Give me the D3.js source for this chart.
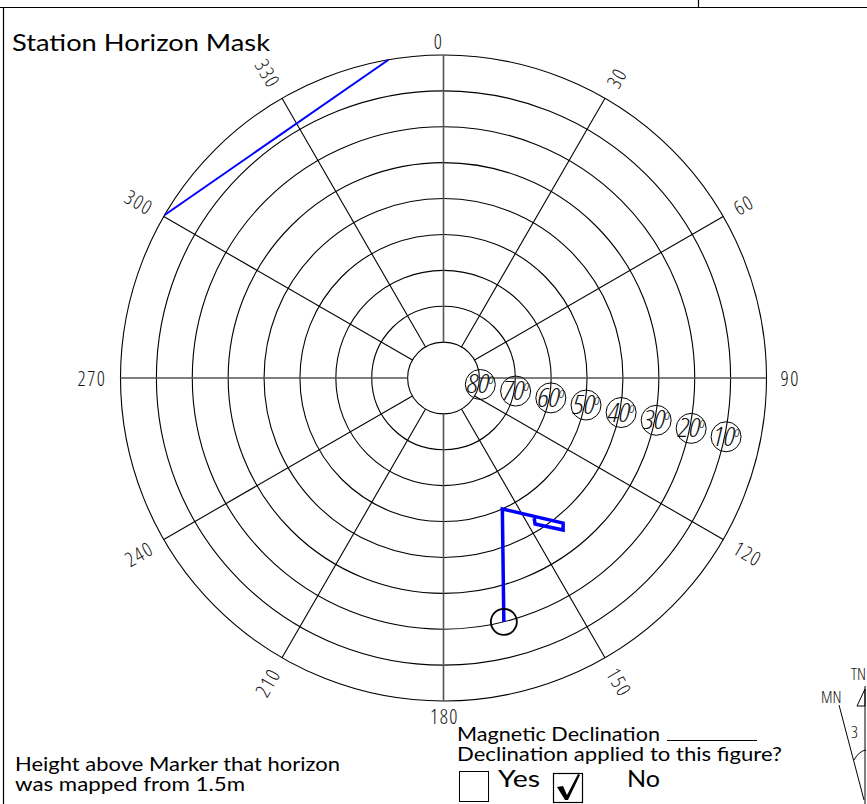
<!DOCTYPE html>
<html>
<head>
<meta charset="utf-8">
<script src="https://cdn.jsdelivr.net/npm/d3@7"></script>
<style>
  body { margin: 0; background: #fff; }
  svg { display: block; }
  .cad { font-family: "Open Sans", "DejaVu Sans", sans-serif; font-weight: 300; font-stretch: condensed; fill: #111; }
  .doc { font-family: "Lato", "Open Sans", sans-serif; fill: #000; }
</style>
</head>
<body>
<div id="chart"></div>
<script>
// azimuth spokes / labels (degrees)
var azTicks = [0, 30, 60, 90, 120, 150, 180, 210, 240, 270, 300, 330];
// elevation rings (degrees)
var elRings = [0, 10, 20, 30, 40, 50, 60, 70, 80];
var elLabels = [80, 70, 60, 50, 40, 30, 20, 10];

// horizon obstructions (azimuth, elevation)
var treeAz = [350.2, 300.3];
var treeEl = [0, 0];
var poleAz = [166.1, 155.8, 140.5, 141.8, 147.9, 147.1];
var poleEl = [20, 50, 37.6, 36.1, 42, 43.5];
var markerAz = 166.1;
var markerEl = 20;

var width = 867, height = 804;
var cx = 443.5, cy = 378, R = 323;

var svg = d3.select('#chart').append('svg')
    .attr('width', width)
    .attr('height', height);

// frame lines of the sheet
svg.append('line').attr('x1', 0).attr('x2', width).attr('y1', 7.5).attr('y2', 7.5)
    .attr('stroke', '#000').attr('stroke-width', 1.2);
svg.append('line').attr('x1', 3.5).attr('x2', 3.5).attr('y1', 7).attr('y2', height)
    .attr('stroke', '#000').attr('stroke-width', 1.2);
svg.append('line').attr('x1', 698.5).attr('x2', 698.5).attr('y1', 0).attr('y2', 7)
    .attr('stroke', '#000').attr('stroke-width', 1.2);

svg.append('text').attr('class', 'doc')
    .attr('x', 12).attr('y', 51)
    .attr('font-size', 24)
    .attr('textLength', 258).attr('lengthAdjust', 'spacingAndGlyphs')
    .text('Station Horizon Mask');

var r = d3.scaleLinear().domain([90, 0]).range([0, R]);
var rad = function (a) { return a * Math.PI / 180; };

var g = svg.append('g').attr('transform', 'translate(' + cx + ',' + cy + ')');

// rings
g.selectAll('circle.ring')
    .data(elRings)
    .enter().append('circle')
    .attr('class', 'ring')
    .attr('r', function (d) { return r(d); })
    .attr('fill', 'none')
    .attr('stroke', '#000')
    .attr('stroke-width', 1.1);

// spokes
g.selectAll('line.spoke')
    .data(azTicks)
    .enter().append('line')
    .attr('class', 'spoke')
    .attr('x1', function (d) { return r(80) * Math.sin(rad(d)); })
    .attr('y1', function (d) { return -r(80) * Math.cos(rad(d)); })
    .attr('x2', function (d) { return r(0) * Math.sin(rad(d)); })
    .attr('y2', function (d) { return -r(0) * Math.cos(rad(d)); })
    .attr('stroke', function (d) { return d % 90 == 0 ? '#555' : '#000'; })
    .attr('stroke-width', function (d) { return d % 90 == 0 ? 1.6 : 1.1; });

// azimuth labels, reading outward along the spoke
g.selectAll('text.az')
    .data(azTicks)
    .enter().append('text')
    .attr('class', 'az cad')
    .attr('font-size', 20)
    .attr('dominant-baseline', 'central')
    .attr('text-anchor', function (d) {
        if (d == 0 || d == 180) return 'middle';
        return d < 180 ? 'start' : 'end';
    })
    .attr('letter-spacing', 1.5)
    .attr('transform', function (d) {
        if (d == 0) return 'translate(-5,' + (-R - 14) + ')';
        if (d == 180) return 'translate(1,' + (R + 15) + ')';
        var rr = R + 14;
        var x = rr * Math.sin(rad(d)), y = -rr * Math.cos(rad(d));
        var rot = d < 180 ? d - 90 : d - 270;
        return 'translate(' + x + ',' + y + ') rotate(' + rot + ')';
    })
    .text(function (d) { return d; });

// elevation labels in small circles
var elG = g.selectAll('g.el')
    .data(elLabels)
    .enter().append('g')
    .attr('class', 'el')
    .attr('transform', function (d) {
        var a = rad(100 + (80 - d) * 0.025);
        var rr = r(d) + 1.5;
        return 'translate(' + (rr * Math.sin(a)) + ',' + (-rr * Math.cos(a)) + ')';
    });
elG.append('circle')
    .attr('r', 15)
    .attr('fill', 'none')
    .attr('stroke', '#000')
    .attr('stroke-width', 1);
var elT = elG.append('text')
    .attr('class', 'cad')
    .attr('font-size', 25)
    .attr('font-style', 'italic')
    .attr('x', -13)
    .attr('y', 9);
elT.append('tspan')
    .attr('textLength', 22).attr('lengthAdjust', 'spacingAndGlyphs')
    .text(function (d) { return d; });
elT.append('tspan').attr('font-size', 15).attr('dy', -9).attr('dx', -1).text('o');

// horizon obstructions
var radial = d3.lineRadial()
    .angle(function (d) { return rad(d.az); })
    .radius(function (d) { return r(d.el); });

var tree = treeAz.map(function (a, i) { return { az: a, el: treeEl[i] }; });
var pole = poleAz.map(function (a, i) { return { az: a, el: poleEl[i] }; });

g.append('path')
    .attr('d', radial(tree))
    .attr('fill', 'none')
    .attr('stroke', '#0000ff')
    .attr('stroke-width', 2);

g.append('path')
    .attr('d', radial(pole))
    .attr('fill', 'none')
    .attr('stroke', '#0000ff')
    .attr('stroke-width', 3.5)
    .attr('stroke-linejoin', 'miter');

g.append('circle')
    .attr('cx', r(markerEl) * Math.sin(rad(markerAz)))
    .attr('cy', -r(markerEl) * Math.cos(rad(markerAz)))
    .attr('r', 13)
    .attr('fill', 'none')
    .attr('stroke', '#000')
    .attr('stroke-width', 1.8);

// notes at the bottom
svg.append('text').attr('class', 'doc').attr('font-size', 19)
    .attr('x', 15).attr('y', 771)
    .attr('textLength', 325).attr('lengthAdjust', 'spacingAndGlyphs')
    .text('Height above Marker that horizon');
svg.append('text').attr('class', 'doc').attr('font-size', 19)
    .attr('x', 15).attr('y', 791)
    .attr('textLength', 230).attr('lengthAdjust', 'spacingAndGlyphs')
    .text('was mapped from 1.5m');

svg.append('text').attr('class', 'doc').attr('font-size', 19)
    .attr('x', 457).attr('y', 741)
    .attr('textLength', 203).attr('lengthAdjust', 'spacingAndGlyphs')
    .text('Magnetic Declination');
svg.append('line').attr('x1', 667).attr('x2', 757).attr('y1', 740.5).attr('y2', 740.5)
    .attr('stroke', '#000').attr('stroke-width', 1);
svg.append('text').attr('class', 'doc').attr('font-size', 19)
    .attr('x', 457).attr('y', 761)
    .attr('textLength', 325).attr('lengthAdjust', 'spacingAndGlyphs')
    .text('Declination applied to this figure?');

svg.append('rect').attr('x', 459.5).attr('y', 771.5).attr('width', 29).attr('height', 30)
    .attr('fill', 'none').attr('stroke', '#000').attr('stroke-width', 1);
svg.append('text').attr('class', 'doc').attr('font-size', 24)
    .attr('x', 498).attr('y', 787)
    .attr('textLength', 42).attr('lengthAdjust', 'spacingAndGlyphs')
    .text('Yes');
svg.append('rect').attr('x', 553.5).attr('y', 773.5).attr('width', 29).attr('height', 29)
    .attr('fill', 'none').attr('stroke', '#000').attr('stroke-width', 1.2);
svg.append('path')
    .attr('d', 'M557,787 L563,786 L567,795 L578,774 L580,775 L568,800 L565,800 Z')
    .attr('fill', '#000');
svg.append('text').attr('class', 'doc').attr('font-size', 24)
    .attr('x', 627).attr('y', 787)
    .attr('textLength', 33).attr('lengthAdjust', 'spacingAndGlyphs')
    .text('No');

// partial north arrow (cut at the sheet edge)
var na = svg.append('g');
na.append('line').attr('x1', 865).attr('x2', 865).attr('y1', 686).attr('y2', height)
    .attr('stroke', '#000').attr('stroke-width', 1);
na.append('line').attr('x1', 839).attr('x2', 864).attr('y1', 705).attr('y2', 800)
    .attr('stroke', '#000').attr('stroke-width', 1);
na.append('path').attr('d', 'M857,706 L865,689 L865,706 Z')
    .attr('fill', 'none').attr('stroke', '#000').attr('stroke-width', 1);
na.append('path').attr('d', 'M854,760 Q859,751 866,750')
    .attr('fill', 'none').attr('stroke', '#000').attr('stroke-width', 1);
na.append('text').attr('class', 'cad').attr('font-size', 17).attr('x', 851).attr('y', 680).text('TN');
na.append('text').attr('class', 'cad').attr('font-size', 17).attr('x', 821).attr('y', 703).text('MN');
na.append('text').attr('class', 'cad').attr('font-size', 17).attr('x', 851).attr('y', 738).text('3');
</script>
</body>
</html>
